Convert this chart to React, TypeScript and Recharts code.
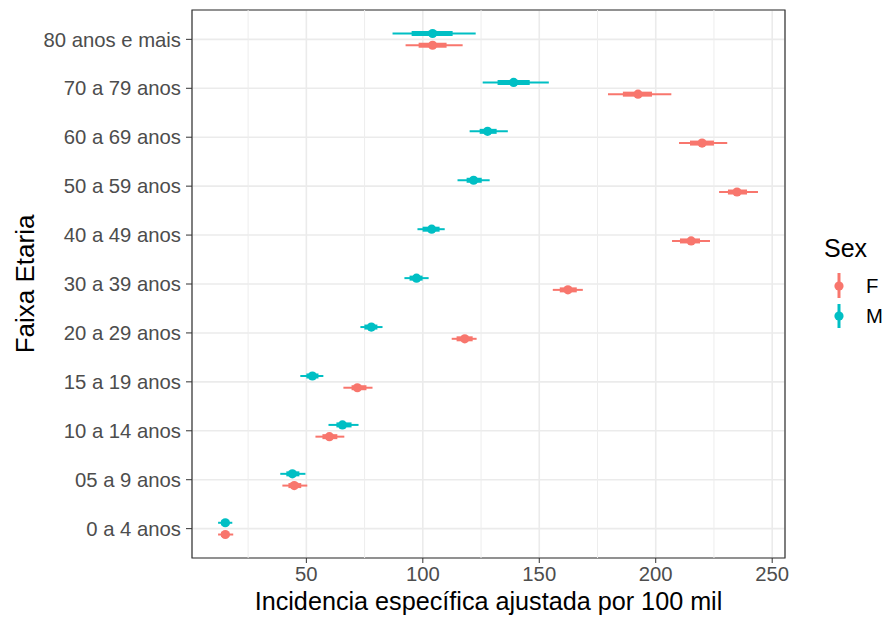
import { ScatterChart, Scatter, XAxis, YAxis, CartesianGrid, ErrorBar, ReferenceLine, ReferenceArea } from 'recharts';

document.body.style.margin = '0';

// age groups, bottom to top
const categories = [
  '0 a 4 anos',
  '05 a 9 anos',
  '10 a 14 anos',
  '15 a 19 anos',
  '20 a 29 anos',
  '30 a 39 anos',
  '40 a 49 anos',
  '50 a 59 anos',
  '60 a 69 anos',
  '70 a 79 anos',
  '80 anos e mais',
];

// F estimates with 95% (outer) and 66% (inner) intervals
const fMid = [15.2, 44.8, 59.9, 71.9, 118.0, 162.3, 215.2, 234.9, 219.9, 192.4, 104.2];
const fLow = [12.1, 39.7, 53.9, 65.9, 112.4, 155.8, 207.0, 227.2, 210.0, 179.5, 92.6];
const fHigh = [18.6, 50.4, 66.3, 78.4, 123.1, 168.7, 223.3, 243.9, 230.7, 206.7, 117.1];
const fInnerLow = [13.4, 42.3, 56.9, 69.4, 114.5, 158.8, 210.4, 231.0, 214.7, 185.9, 98.2];
const fInnerHigh = [16.9, 47.8, 63.3, 75.8, 121.4, 166.1, 219.0, 239.2, 225.0, 198.4, 110.2];

// M
const mMid = [15.2, 44.0, 65.5, 52.6, 77.9, 97.3, 103.8, 121.8, 127.8, 139.0, 104.2];
const mLow = [12.1, 38.8, 59.5, 47.4, 73.2, 92.1, 97.7, 114.9, 120.1, 125.7, 87.0];
const mHigh = [18.2, 49.6, 72.4, 57.3, 82.7, 102.5, 109.4, 128.7, 136.5, 154.1, 122.7];
const mInnerLow = [13.4, 41.4, 62.9, 50.0, 74.9, 94.3, 99.9, 118.8, 124.4, 132.1, 95.2];
const mInnerHigh = [16.9, 47.0, 69.4, 55.2, 80.5, 99.9, 107.2, 125.3, 131.7, 145.9, 112.8];

const xTicks = [50, 100, 150, 200, 250];
const xMinor = [25, 75, 125, 175, 225];
const yTicks = categories.map((_, i) => i + 1);

const F_COLOR = '#F8766D';
const M_COLOR = '#00BFC4';
const DODGE = 0.12;

function buildSeries(mid: number[], lo: number[], hi: number[], ilo: number[], ihi: number[], shift: number) {
  return mid.map((v, i) => ({
    y: i + 1 + shift,
    x: v,
    outer: [v - lo[i], hi[i] - v],
    inner: [v - ilo[i], ihi[i] - v],
  }));
}

const fData = buildSeries(fMid, fLow, fHigh, fInnerLow, fInnerHigh, -DODGE);
const mData = buildSeries(mMid, mLow, mHigh, mInnerLow, mInnerHigh, DODGE);

const font = '"Liberation Sans", Arial, Helvetica, sans-serif';
const tickStyle = { fontSize: 20.3, fill: '#4D4D4D', fontFamily: font };

const dot = (color: string) => (props: any) => (
  <circle cx={props.cx} cy={props.cy} r={4.6} fill={color} />
);

function LegendBox() {
  return (
    <svg width={90} height={130} style={{ position: 'absolute', left: 800, top: 225 }}>
      <text x={24} y={32} fontSize={25} fontFamily={font} fill="#000">Sex</text>
      <line x1={39} y1={48} x2={39} y2={73} stroke={F_COLOR} strokeWidth={3} />
      <circle cx={39} cy={61} r={4.6} fill={F_COLOR} />
      <text x={66} y={68} fontSize={20.3} fontFamily={font} fill="#000">F</text>
      <line x1={39} y1={79} x2={39} y2={103} stroke={M_COLOR} strokeWidth={3} />
      <circle cx={39} cy={91} r={4.6} fill={M_COLOR} />
      <text x={66} y={98} fontSize={20.3} fontFamily={font} fill="#000">M</text>
    </svg>
  );
}

export default function App() {
  return (
    <div style={{ position: 'relative', width: 887, height: 617, background: '#fff' }}>
      <ScatterChart width={887} height={617} margin={{ top: 10, right: 102, bottom: 0, left: 0 }}>
        <CartesianGrid stroke="#EBEBEB" strokeWidth={1.6} />
        {xMinor.map((v) => (
          <ReferenceLine key={v} x={v} stroke="#EDEDED" strokeWidth={1} />
        ))}
        <XAxis
          type="number"
          dataKey="x"
          domain={[0.9, 255.5]}
          allowDataOverflow
          ticks={xTicks}
          tick={tickStyle}
          tickLine={{ stroke: '#333333' }}
          tickSize={5}
          tickMargin={4}
          axisLine={false}
          height={59}
          label={{
            value: 'Incidencia específica ajustada por 100 mil',
            position: 'insideBottom',
            offset: 7,
            style: { fontSize: 25.2, fill: '#000', fontFamily: font },
          }}
        />
        <YAxis
          type="number"
          dataKey="y"
          domain={[0.4, 11.6]}
          allowDataOverflow
          ticks={yTicks}
          tickFormatter={(v: number) => categories[v - 1]}
          tick={tickStyle}
          tickLine={{ stroke: '#333333' }}
          tickSize={6}
          tickMargin={5}
          axisLine={false}
          width={192}
          label={{
            value: 'Faixa Etaria',
            angle: -90,
            position: 'insideLeft',
            offset: 25,
            style: { fontSize: 26, fill: '#000', fontFamily: font, textAnchor: 'middle' },
          }}
        />
        <ReferenceArea
          x1={0.9}
          x2={255.5}
          y1={0.4}
          y2={11.6}
          fill="none"
          stroke="#333333"
          strokeWidth={1.2}
          ifOverflow="visible"
        />
        <Scatter name="F" data={fData} fill={F_COLOR} shape={dot(F_COLOR)} isAnimationActive={false}>
          <ErrorBar dataKey="outer" direction="x" width={0} stroke={F_COLOR} strokeWidth={2} isAnimationActive={false} />
          <ErrorBar dataKey="inner" direction="x" width={0} stroke={F_COLOR} strokeWidth={5} isAnimationActive={false} />
        </Scatter>
        <Scatter name="M" data={mData} fill={M_COLOR} shape={dot(M_COLOR)} isAnimationActive={false}>
          <ErrorBar dataKey="outer" direction="x" width={0} stroke={M_COLOR} strokeWidth={2} isAnimationActive={false} />
          <ErrorBar dataKey="inner" direction="x" width={0} stroke={M_COLOR} strokeWidth={5} isAnimationActive={false} />
        </Scatter>
      </ScatterChart>
      <LegendBox />
    </div>
  );
}
